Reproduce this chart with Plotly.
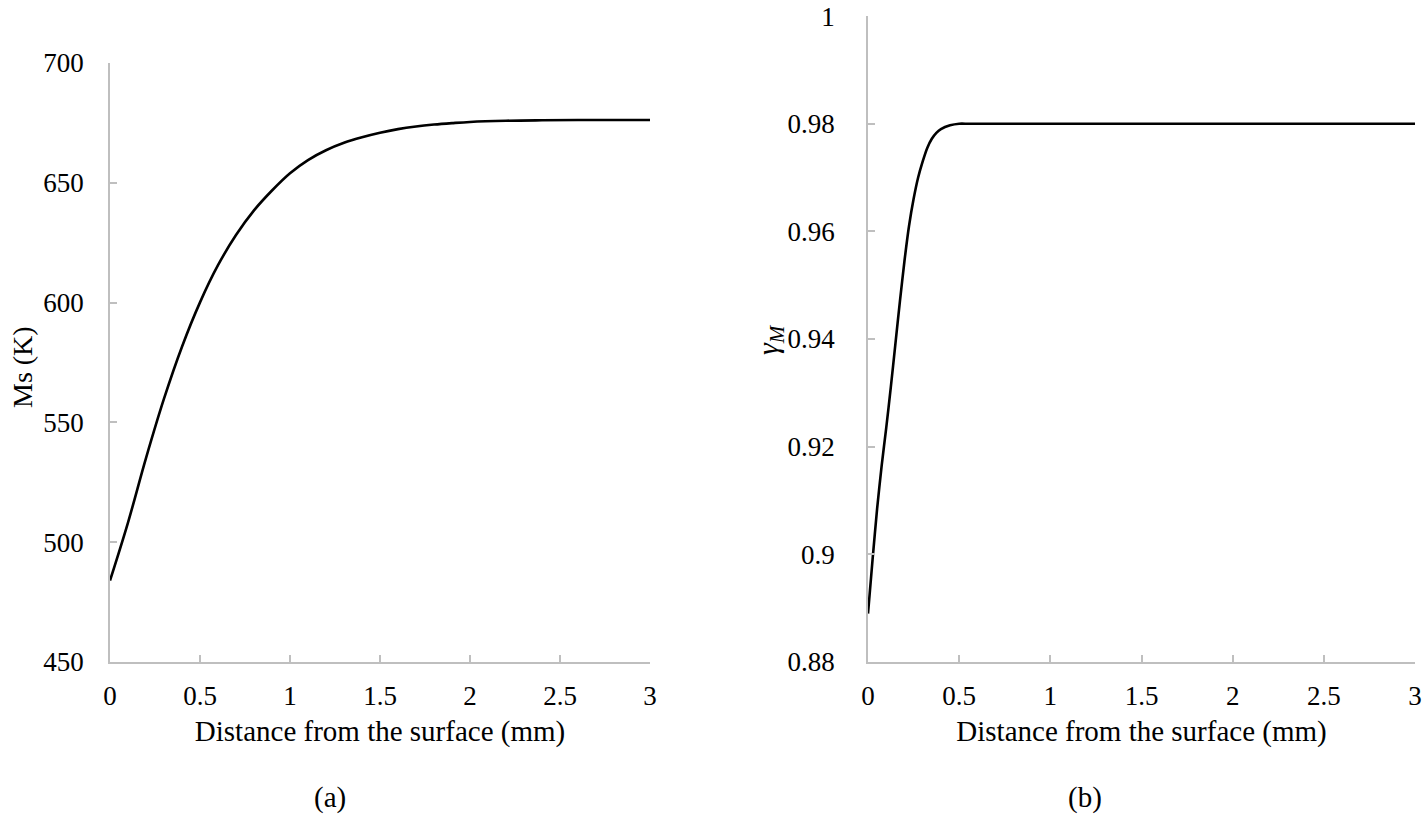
import plotly.graph_objects as go

# Panel (a): Ms vs distance
dist_a = [0, 0.1, 0.2, 0.3, 0.4, 0.5, 0.6, 0.7, 0.8, 0.9, 1.0, 1.1, 1.2, 1.3, 1.4,
          1.5, 1.6, 1.7, 1.8, 1.9, 2.0, 2.2, 2.4, 2.6, 2.8, 3.0]
ms_a = [484, 508.2, 535.1, 559.9, 581.6, 600.1, 615.6, 628.2, 638.5, 646.8, 654, 659.5,
        663.6, 666.7, 669.0, 670.9, 672.4, 673.5, 674.3, 674.9, 675.4, 675.9, 676.1,
        676.2, 676.2, 676.2]

# Panel (b): gamma_M vs distance
dist_b = [0, 0.025, 0.05, 0.075, 0.1, 0.125, 0.15, 0.175, 0.2, 0.225, 0.25, 0.275,
          0.3, 0.325, 0.35, 0.375, 0.4, 0.45, 0.5, 0.55, 1.0, 1.5, 2.0, 2.5, 3.0]
gam_b = [0.889, 0.899, 0.9085, 0.9165, 0.9235, 0.931, 0.939, 0.947, 0.9545, 0.961, 0.966,
         0.970, 0.973, 0.9755, 0.9772, 0.9783, 0.979, 0.9797, 0.98, 0.98, 0.98, 0.98,
         0.98, 0.98, 0.98]

x_ticks = [0, 0.5, 1, 1.5, 2, 2.5, 3]
ya_ticks = [450, 500, 550, 600, 650, 700]
yb_ticks = [0.88, 0.9, 0.92, 0.94, 0.96, 0.98, 1]
yb_labels = ["0.88", "0.9", "0.92", "0.94", "0.96", "0.98", "1"]
x_title = "Distance from the surface (mm)"

W, H = 1426, 818
FONT = "Liberation Serif"
GRAY = "#bfbfbf"


def px(x):
    return x / W


def py(y):
    return 1 - y / H


fig = go.Figure()
fig.add_trace(go.Scatter(x=dist_a, y=ms_a, mode="lines", xaxis="x", yaxis="y",
                         line=dict(color="black", width=2.6, shape="spline", smoothing=1.0),
                         showlegend=False))
fig.add_trace(go.Scatter(x=dist_b, y=gam_b, mode="lines", xaxis="x2", yaxis="y2",
                         line=dict(color="black", width=2.6, shape="spline", smoothing=0.6),
                         showlegend=False))


def xa(domain, anchor):
    return dict(domain=domain, anchor=anchor, range=[0, 3], tickvals=x_ticks,
                showline=True, linecolor=GRAY, linewidth=1.5, mirror=False,
                ticks="inside", ticklen=7, tickwidth=1.5, tickcolor=GRAY,
                showgrid=False, zeroline=False, ticklabelstandoff=9, automargin=False,
                ticklabeloverflow="allow",
                tickfont=dict(family=FONT, size=27, color="black"),
                title=dict(text=x_title, font=dict(family=FONT, size=29, color="black"),
                           standoff=11))


def ya(domain, anchor, rng, tv, tt, standoff):
    return dict(domain=domain, anchor=anchor, range=rng, tickvals=tv, ticktext=tt,
                showline=True, linecolor=GRAY, linewidth=1.5, mirror=False,
                ticks="inside", ticklen=7, tickwidth=1.5, tickcolor=GRAY,
                showgrid=False, zeroline=False, ticklabelstandoff=standoff, automargin=False,
                ticklabeloverflow="allow",
                tickfont=dict(family=FONT, size=27, color="black"))


fig.update_layout(
    width=W, height=H,
    margin=dict(l=0, r=0, t=0, b=0),
    paper_bgcolor="white", plot_bgcolor="white",
    font=dict(family=FONT, color="black"),
    xaxis=xa([px(110), px(650)], "y"),
    yaxis=ya([py(662), py(63)], "x", [450, 700.001], ya_ticks,
             [str(v) for v in ya_ticks], 19),
    xaxis2=xa([px(868), px(1415)], "y2"),
    yaxis2=ya([py(662), py(16)], "x2", [0.88, 1.00001], yb_ticks, yb_labels, 26),
    annotations=[
        dict(text="Ms (K)", x=px(23), y=py(367), xref="paper", yref="paper",
             textangle=-90, showarrow=False, xanchor="center", yanchor="middle",
             font=dict(family=FONT, size=28, color="black")),
        dict(text="<i>γ<sub>M</sub></i>", x=px(770), y=py(340), xref="paper", yref="paper",
             textangle=-90, showarrow=False, xanchor="center", yanchor="middle",
             font=dict(family=FONT, size=30, color="black")),
        dict(text="(a)", x=px(330), y=py(797), xref="paper", yref="paper",
             showarrow=False, xanchor="center", yanchor="middle",
             font=dict(family=FONT, size=29, color="black")),
        dict(text="(b)", x=px(1085), y=py(797), xref="paper", yref="paper",
             showarrow=False, xanchor="center", yanchor="middle",
             font=dict(family=FONT, size=29, color="black")),
    ],
)

fig.write_html("out.html", config={"displayModeBar": False},
               post_script="document.body.style.margin='0';document.body.style.overflow='hidden';")
